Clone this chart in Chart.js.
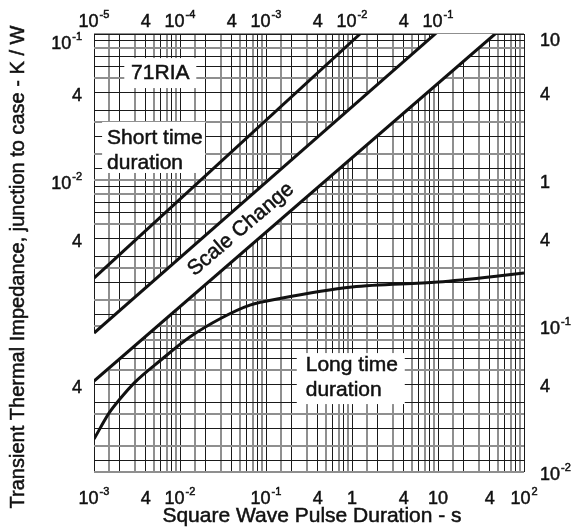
<!DOCTYPE html>
<html>
<head>
<meta charset="utf-8">
<script src="https://cdn.jsdelivr.net/npm/chart.js@4.4.1/dist/chart.umd.min.js"></script>
<style>
  html, body { margin: 0; padding: 0; background: #fff; }
  canvas { display: block; }
</style>
</head>
<body>
<canvas id="zth" width="573" height="529"></canvas>
<script>
// long time duration curve (bottom / right scales)
const longPulse = [0.001, 0.0015, 0.002, 0.003, 0.006, 0.013, 0.03, 0.065, 0.15, 1, 10, 50, 100];
const longZth = [0.0168, 0.0254, 0.0316, 0.0413, 0.0585, 0.084, 0.113, 0.139, 0.155, 0.185, 0.2, 0.22, 0.231];

// short time duration line (top / left scales)
const shortPulse = [1e-5, 0.0124];
const shortZth = [0.00213, 0.1];

// edges of the "Scale Change" band (top / left scales)
const bandUpperPulse = [1e-5, 0.46];
const bandUpperZth = [0.000895, 0.229];
const bandLowerPulse = [1e-5, 0.46];
const bandLowerZth = [0.00042, 0.1];

// tick labels, "^" starts the exponent
const bottomTicks = [1e-3, 4e-3, 1e-2, 1e-1, 0.4, 1, 4, 10, 40, 100];
const bottomLabels = ['10^-3', '4', '10^-2', '10^-1', '4', '1', '4', '10', '4', '10^2'];
const topTicks = [1e-5, 4e-5, 1e-4, 4e-4, 1e-3, 4e-3, 1e-2, 4e-2, 1e-1];
const topLabels = ['10^-5', '4', '10^-4', '4', '10^-3', '4', '10^-2', '4', '10^-1'];
const leftTicks = [1e-1, 4e-2, 1e-2, 4e-3, 4e-4];
const leftLabels = ['10^-1', '4', '10^-2', '4', '4'];
const rightTicks = [10, 4, 1, 0.4, 0.1, 0.04, 0.01];
const rightLabels = ['10', '4', '1', '4', '10^-1', '4', '10^-2'];

// grid steps inside one decade
const xSteps = [1, 1.5, 2, 3, 4, 5, 6, 7, 8, 9];
const xDark = [1, 2, 4, 6, 8];
const ySteps = [1, 1.2, 1.5, 2, 2.5, 3, 4, 5, 6, 7, 8, 9];
const yDark = [1.2, 2, 3, 4, 6, 7, 9];

const FONT = '"Liberation Sans", Arial, sans-serif';
const INK = '#111';

function decadeTicks(min, max, steps) {
  const out = [];
  for (let e = Math.round(Math.log10(min)); e <= Math.round(Math.log10(max)); e++) {
    for (const s of steps) {
      const v = s * Math.pow(10, e);
      if (v >= min * 0.999 && v <= max * 1.001) out.push({ value: v });
    }
  }
  return out;
}
function significand(v) {
  const e = Math.floor(Math.log10(v) + 1e-9);
  return Math.round(v / Math.pow(10, e) * 10) / 10;
}
const pts = (xs, ys) => xs.map((x, i) => ({ x, y: ys[i] }));

// slightly heavier text, like the printed sheet
function ink(ctx, text, x, y) {
  ctx.fillText(text, x, y);
  ctx.strokeText(text, x, y);
}

function drawLabel(ctx, text, x, y, align) {
  const [base, sup] = text.split('^');
  ctx.font = '18px ' + FONT;
  const bw = ctx.measureText(base).width;
  let sw = 0;
  if (sup) { ctx.font = '11px ' + FONT; sw = ctx.measureText(sup).width + 1; }
  const total = bw + sw;
  const left = align === 'center' ? x - total / 2 : align === 'right' ? x - total : x;
  ctx.textAlign = 'left';
  ctx.textBaseline = 'alphabetic';
  ctx.font = '18px ' + FONT;
  ink(ctx, base, left, y);
  if (sup) { ctx.font = '11px ' + FONT; ink(ctx, sup, left + bw + 1, y - 9); }
}

// text boxes: anchor given on the bottom / right scales
const notes = [
  { lines: ['71RIA'], x: 0.0059, y: 5.4, box: [-36, -15, 72, 30], align: 'center' },
  { lines: ['Short time', 'duration'], x: 0.00142, y: 1.94, box: [-5, -16, 103, 51], align: 'left' },
  { lines: ['Long time', 'duration'], x: 0.29, y: 0.054, box: [-9, -12, 108, 51], align: 'left' }
];

const annotate = {
  id: 'annotate',
  beforeDatasetsDraw(chart) {
    const ctx = chart.ctx, xs = chart.scales.x, ys = chart.scales.y2;
    ctx.save();
    ctx.fillStyle = '#fff';
    for (const n of notes) {
      const px = xs.getPixelForValue(n.x), py = ys.getPixelForValue(n.y);
      ctx.fillRect(px + n.box[0], py + n.box[1], n.box[2], n.box[3]);
    }
    ctx.restore();
  },
  afterDatasetsDraw(chart) {
    const ctx = chart.ctx, s = chart.scales;
    ctx.save();
    ctx.fillStyle = INK;
    ctx.strokeStyle = INK;
    ctx.lineWidth = 0.5;
    // notes
    ctx.font = '21px ' + FONT;
    ctx.textBaseline = 'middle';
    for (const n of notes) {
      const px = s.x.getPixelForValue(n.x), py = s.y2.getPixelForValue(n.y);
      ctx.textAlign = n.align;
      n.lines.forEach((t, i) => ink(ctx, t, px, py + i * 25));
    }
    // band caption
    const bx = s.x2.getPixelForValue(5.1e-4), by = s.y.getPixelForValue(4.6e-3);
    ctx.save();
    ctx.translate(bx, by);
    ctx.rotate(-40.5 * Math.PI / 180);
    ctx.textAlign = 'center';
    ink(ctx, 'Scale Change', 0, 0);
    ctx.restore();

    // tick labels
    bottomTicks.forEach((v, i) => drawLabel(ctx, bottomLabels[i], s.x.getPixelForValue(v), 504, 'center'));
    topTicks.forEach((v, i) => drawLabel(ctx, topLabels[i], s.x2.getPixelForValue(v), 27, 'center'));
    leftTicks.forEach((v, i) => drawLabel(ctx, leftLabels[i], 82, s.y.getPixelForValue(v) + (i === 0 ? 15 : 9), 'right'));
    rightTicks.forEach((v, i) => drawLabel(ctx, rightLabels[i], 540, s.y2.getPixelForValue(v) + (i === 0 ? 12 : 8), 'left'));

    // axis titles
    ctx.font = '21px ' + FONT;
    ctx.textAlign = 'center';
    ctx.textBaseline = 'alphabetic';
    ink(ctx, 'Square Wave Pulse Duration - s', 312, 522);
    ctx.save();
    ctx.translate(24, 267);
    ctx.rotate(-Math.PI / 2);
    ctx.font = '20px ' + FONT;
    ink(ctx, 'Transient Thermal Impedance, junction to case - K / W', 0, 0);
    ctx.restore();
    ctx.restore();
  }
};

const lineStyle = { showLine: true, pointRadius: 0, borderColor: INK, borderWidth: 3, fill: false };

new Chart(document.getElementById('zth'), {
  type: 'scatter',
  data: {
    datasets: [
      { ...lineStyle, data: pts(longPulse, longZth), xAxisID: 'x', yAxisID: 'y2', tension: 0.4, cubicInterpolationMode: 'monotone' },
      { ...lineStyle, data: pts(shortPulse, shortZth), xAxisID: 'x2', yAxisID: 'y' },
      { ...lineStyle, data: pts(bandUpperPulse, bandUpperZth), xAxisID: 'x2', yAxisID: 'y' },
      { ...lineStyle, data: pts(bandLowerPulse, bandLowerZth), xAxisID: 'x2', yAxisID: 'y', fill: '-1', backgroundColor: '#fff' }
    ]
  },
  options: {
    responsive: false,
    animation: false,
    events: [],
    layout: { padding: 0 },
    plugins: { legend: { display: false }, tooltip: { enabled: false } },
    scales: {
      x: {
        type: 'logarithmic', position: 'bottom', min: 1e-3, max: 100,
        afterBuildTicks: (sc) => { sc.ticks = decadeTicks(1e-3, 100, xSteps); },
        afterFit: (sc) => { sc.height = 57; },
        ticks: { display: false },
        border: { display: false },
        grid: {
          drawTicks: false,
          color: (c) => xDark.includes(significand(c.tick.value)) ? '#1a1a1a' : '#8f8f8f',
          lineWidth: (c) => xDark.includes(significand(c.tick.value)) ? 1 : 2
        }
      },
      x2: {
        type: 'logarithmic', position: 'top', min: 1e-5, max: 1,
        afterFit: (sc) => { sc.height = 34; },
        ticks: { display: false },
        border: { display: true, color: '#1a1a1a', width: 1 },
        grid: { display: false }
      },
      y: {
        type: 'logarithmic', position: 'left', min: 1e-4, max: 0.1,
        afterFit: (sc) => { sc.width = 94; },
        ticks: { display: false }, border: { display: false }, grid: { display: false }
      },
      y2: {
        type: 'logarithmic', position: 'right', min: 0.01, max: 10,
        afterBuildTicks: (sc) => { sc.ticks = decadeTicks(0.01, 10, ySteps); },
        afterFit: (sc) => { sc.width = 49; },
        ticks: { display: false },
        border: { display: false },
        grid: {
          drawTicks: false,
          color: (c) => yDark.includes(significand(c.tick.value)) ? '#1a1a1a' : '#8f8f8f',
          lineWidth: (c) => yDark.includes(significand(c.tick.value)) ? 1 : 2
        }
      }
    }
  },
  plugins: [annotate]
});
</script>
</body>
</html>
